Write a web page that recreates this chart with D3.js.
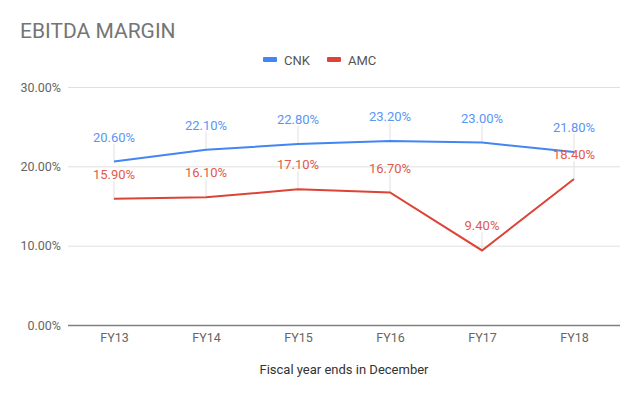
<!DOCTYPE html>
<html>
<head>
<meta charset="utf-8">
<script src="https://cdn.jsdelivr.net/npm/d3@7"></script>
<style>
  body { margin: 0; background: #fff; }
  svg { font-family: Roboto, "Noto Sans", sans-serif; }
</style>
</head>
<body>
<div id="chart"></div>
<script>
const categories = ["FY13", "FY14", "FY15", "FY16", "FY17", "FY18"];
const cnk = [20.6, 22.1, 22.8, 23.2, 23.0, 21.8];
const amc = [15.9, 16.1, 17.1, 16.7, 9.4, 18.4];
const yTicks = [0, 10, 20, 30];

const width = 640;
const height = 396;
const margin = { top: 87, right: 20, bottom: 71, left: 68 };

const series = [
  { name: "CNK", values: cnk, color: "#4285f4", labelColor: "#5b95f5" },
  { name: "AMC", values: amc, color: "#db4437", labelColor: "#df5a4d" },
];

const x = d3
  .scalePoint()
  .domain(categories)
  .range([margin.left, width - margin.right])
  .padding(0.5);
const y = d3
  .scaleLinear()
  .domain([0, 30])
  .range([height - margin.bottom, margin.top]);

const svg = d3
  .select("#chart")
  .append("svg")
  .attr("width", width)
  .attr("height", height);

svg
  .append("text")
  .attr("x", 20)
  .attr("y", 38)
  .attr("fill", "#757575")
  .attr("font-size", 21)
  .text("EBITDA MARGIN");

// gridlines + y labels
const yAxisG = svg
  .append("g")
  .attr("transform", `translate(${margin.left},0)`)
  .call(
    d3
      .axisLeft(y)
      .tickValues(yTicks)
      .tickSize(-(width - margin.left - margin.right))
      .tickPadding(7)
      .tickFormat((d) => d3.format(".2f")(d) + "%")
  );
yAxisG.select(".domain").remove();
yAxisG
  .selectAll(".tick line")
  .attr("stroke", (d) => (d === 0 ? "#808080" : "#e0e0e0"))
  .attr("stroke-width", (d) => (d === 0 ? 1.5 : 1));
yAxisG
  .selectAll(".tick text")
  .attr("fill", "#666")
  .attr("font-size", 12.5)
  .attr("font-family", "Roboto, sans-serif");

// x labels
const xAxisG = svg
  .append("g")
  .attr("transform", `translate(0,${height - margin.bottom})`)
  .call(d3.axisBottom(x).tickSize(0).tickPadding(8));
xAxisG.select(".domain").remove();
xAxisG
  .selectAll(".tick text")
  .attr("fill", "#666")
  .attr("font-size", 12.5)
  .attr("font-family", "Roboto, sans-serif");

svg
  .append("text")
  .attr("x", (margin.left + width - margin.right) / 2)
  .attr("y", 374)
  .attr("text-anchor", "middle")
  .attr("fill", "#333")
  .attr("font-size", 13)
  .text("Fiscal year ends in December");

// leader lines
series.forEach((s) => {
  svg
    .append("g")
    .selectAll("line")
    .data(s.values)
    .join("line")
    .attr("x1", (d, i) => x(categories[i]))
    .attr("x2", (d, i) => x(categories[i]))
    .attr("y1", (d) => y(d) - 18)
    .attr("y2", (d) => y(d))
    .attr("stroke", "#e0e0e0")
    .attr("stroke-width", 1);
});

const line = d3
  .line()
  .x((d, i) => x(categories[i]))
  .y((d) => y(d));

series.forEach((s) => {
  svg
    .append("path")
    .datum(s.values)
    .attr("fill", "none")
    .attr("stroke", s.color)
    .attr("stroke-width", 2)
    .attr("d", line);
});

series.forEach((s) => {
  svg
    .append("g")
    .selectAll("text")
    .data(s.values)
    .join("text")
    .attr("x", (d, i) => x(categories[i]))
    .attr("y", (d) => y(d) - 20)
    .attr("text-anchor", "middle")
    .attr("fill", s.labelColor)
    .attr("font-size", 13)
    .text((d) => d3.format(".2f")(d) + "%");
});

// legend
const legend = svg
  .append("g")
  .selectAll("g")
  .data(series)
  .join("g")
  .attr("transform", (d, i) => `translate(${263 + i * 64},60)`);
legend
  .append("rect")
  .attr("x", 0)
  .attr("y", -3)
  .attr("width", 14)
  .attr("height", 5)
  .attr("rx", 1)
  .attr("fill", (d) => d.color);
legend
  .append("text")
  .attr("x", 21)
  .attr("y", 4.5)
  .attr("fill", "#555")
  .attr("font-size", 13)
  .text((d) => d.name);
</script>
</body>
</html>
